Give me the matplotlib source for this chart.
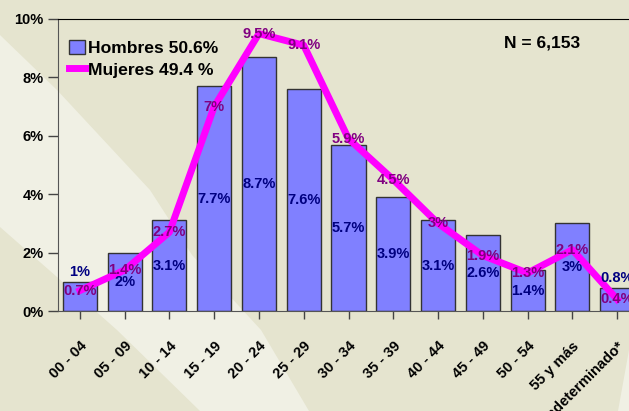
import numpy as np
import matplotlib
matplotlib.use("Agg")
from matplotlib import pyplot as plt
from matplotlib.patches import Polygon, Patch
from matplotlib.lines import Line2D

# data
groups = ["00 - 04", "05 - 09", "10 - 14", "15 - 19", "20 - 24", "25 - 29",
          "30 - 34", "35 - 39", "40 - 44", "45 - 49", "50 - 54", "55 y más",
          "Indeterminado*"]
hombres = [1, 2, 3.1, 7.7, 8.7, 7.6, 5.7, 3.9, 3.1, 2.6, 1.4, 3, 0.8]
mujeres = [0.7, 1.4, 2.7, 7, 9.5, 9.1, 5.9, 4.5, 3, 1.9, 1.3, 2.1, 0.4]
label_h = "Hombres 50.6%"
label_m = "Mujeres 49.4 %"
n_text = "N = 6,153"

W, H = 629, 411
BG = "#e5e4cf"
LIGHT = "#f0f0e4"
BAR = "#8080ff"
MAGENTA = "#ff00ff"
NAVY = "#000080"
PURPLE = "#800080"

plt.rcParams["font.family"] = ["Liberation Sans", "DejaVu Sans"]
plt.rcParams["font.weight"] = "bold"

fig = plt.figure(figsize=(W / 100, H / 100), dpi=100, facecolor=BG)

# background layer with the light diagonal bands (pixel coords, top-left origin)
bg = fig.add_axes([0, 0, 1, 1], zorder=-1)
bg.set_xlim(0, W)
bg.set_ylim(H, 0)
bg.axis("off")
band = [(0, 35), (57, 90), (150, 190), (192, 255), (261, 330), (309, 411),
        (200, 411), (117, 330), (57, 277), (0, 227)]
bg.add_patch(Polygon(band, closed=True, facecolor=LIGHT, edgecolor="none"))
corner = [(618, 411), (629, 350), (629, 411)]
bg.add_patch(Polygon(corner, closed=True, facecolor=LIGHT, edgecolor="none"))

ax = fig.add_axes([57.5 / W, 100 / H, 582 / W, 292 / H])
ax.set_facecolor("none")

x = np.arange(len(groups))
ax.bar(x, hombres, width=0.76, color=BAR, edgecolor="#333333", linewidth=1,
       zorder=2)
ax.plot(x, mujeres, color=MAGENTA, linewidth=5, solid_joinstyle="round",
        zorder=3)

for xi, v in zip(x, hombres):
    if v <= 1:
        ax.text(xi, v + 0.1, f"{v:g}%", ha="center", va="bottom",
                color=NAVY, fontsize=10.5, fontweight="bold", zorder=4)
    else:
        ax.text(xi, v / 2, f"{v:g}%", ha="center", va="center",
                color=NAVY, fontsize=10.5, fontweight="bold", zorder=4)

for xi, v in zip(x, mujeres):
    ax.text(xi, v, f"{v:g}%", ha="center", va="center", color=PURPLE,
            fontsize=10.5, fontweight="bold", zorder=4)

ax.set_xlim(-0.5, len(groups) - 0.5)
ax.set_ylim(0, 10)
ax.set_yticks(np.arange(0, 11, 2))
ax.set_yticklabels([f"{t}%" for t in range(0, 11, 2)], fontsize=10.5,
                   fontweight="bold")
ax.set_xticks(x)
ax.set_xticklabels(groups, rotation=45, ha="right", rotation_mode="anchor",
                   fontsize=10.5, fontweight="bold")
ax.tick_params(axis="x", length=6, width=1, color="#444444", pad=14)
ax.tick_params(axis="y", length=7, width=1, color="#444444", pad=3)

ax.spines["right"].set_visible(False)
ax.spines["top"].set_color("black")
ax.spines["left"].set_color("#555555")
ax.spines["bottom"].set_color("#555555")

handles = [Patch(facecolor=BAR, edgecolor="#333333", linewidth=1),
           Line2D([0], [0], color=MAGENTA, linewidth=5)]
ax.legend(handles, [label_h, label_m], loc="upper left",
          bbox_to_anchor=(60 / W, 1 - 31 / H), bbox_transform=fig.transFigure,
          frameon=False, handlelength=0.9, handleheight=0.85,
          handletextpad=0.2, labelspacing=0.35, borderpad=0,
          prop={"weight": "bold", "size": 12.6})

fig.text(542 / W, 1 - 43 / H, n_text, ha="center", va="center",
         fontsize=12.5, fontweight="bold")

fig.savefig("out.png", dpi=100, facecolor=BG)
